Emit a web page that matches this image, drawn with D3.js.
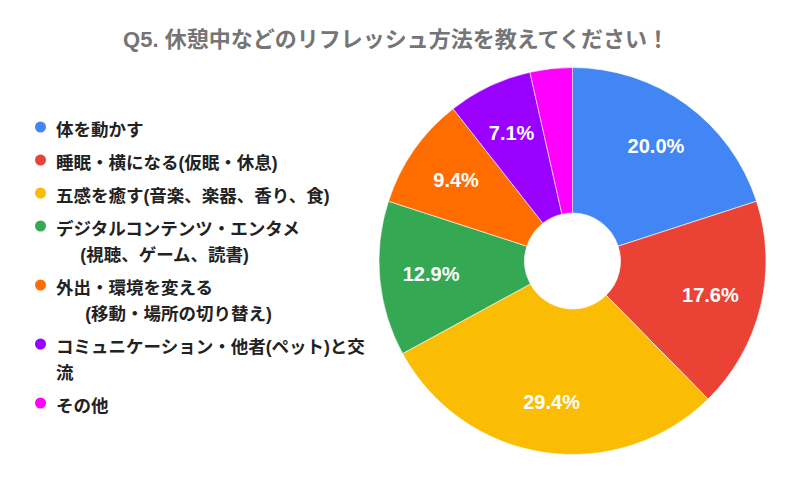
<!DOCTYPE html>
<html><head><meta charset="utf-8">
<script src="https://cdn.jsdelivr.net/npm/d3@7"></script>
<style>
html,body{margin:0;padding:0;background:#fff;}
text{font-family:Arial,"Liberation Sans","Noto Sans CJK JP",sans-serif;}
</style></head>
<body>
<svg id="chart" width="803" height="478"></svg>
<script>
const title = "Q5. 休憩中などのリフレッシュ方法を教えてください！";
const categories = [
  ["体を動かす"],
  ["睡眠・横になる(仮眠・休息)"],
  ["五感を癒す(音楽、楽器、香り、食)"],
  ["デジタルコンテンツ・エンタメ", "     (視聴、ゲーム、読書)"],
  ["外出・環境を変える", "      (移動・場所の切り替え)"],
  ["コミュニケーション・他者(ペット)と交", "流"],
  ["その他"]
];
const counts = [17, 15, 25, 11, 8, 6, 3];
const colors = ["#4285F4", "#EA4335", "#FBBC04", "#34A853", "#FF6D01", "#9900FF", "#FF00FF"];

const svg = d3.select("#chart");
svg.append("rect").attr("width",803).attr("height",478).attr("fill","#fff");

svg.append("text")
  .attr("x", 396).attr("y", 47)
  .attr("text-anchor","middle")
  .attr("font-size", 22).attr("font-weight","bold")
  .attr("fill","#757575")
  .text(title);

const cx = 572.5, cy = 261, R = 193.5, r0 = 48;
const total = d3.sum(counts);
const pie = d3.pie().sort(null).value(d => d)(counts);
const arc = d3.arc().innerRadius(r0).outerRadius(R);
const labelArc = d3.arc().innerRadius(142).outerRadius(142);

const g = svg.append("g").attr("transform", `translate(${cx},${cy})`);
g.selectAll("path").data(pie).join("path")
  .attr("d", arc)
  .attr("fill", (d,i) => colors[i])
  .attr("stroke", "#fff").attr("stroke-width", 0.6);

g.selectAll("text.lbl").data(pie.filter(d => d.value/total >= 0.05)).join("text")
  .attr("class","lbl")
  .attr("transform", d => `translate(${labelArc.centroid(d)})`)
  .attr("text-anchor","middle")
  .attr("dy","0.36em")
  .attr("font-size", 20).attr("font-weight","bold")
  .attr("fill","#fff")
  .text(d => (d.value/total*100).toFixed(1) + "%");

// legend
const lg = svg.append("g");
let y = 127;
const rowGap = 33, lineGap = 26;
categories.forEach((lines, i) => {
  lg.append("circle").attr("cx", 40.5).attr("cy", y).attr("r", 5.5).attr("fill", colors[i]);
  const t = lg.append("text")
    .attr("x", 56).attr("y", y)
    .attr("font-size", 17.5).attr("font-weight","bold")
    .attr("fill","#222")
    .style("white-space","pre");
  lines.forEach((ln, j) => {
    t.append("tspan").attr("x", 56).attr("dy", j === 0 ? "0.5em" : lineGap)
      .style("white-space","pre").text(ln);
  });
  y += rowGap + lineGap * (lines.length - 1);
});
</script>
</body></html>
